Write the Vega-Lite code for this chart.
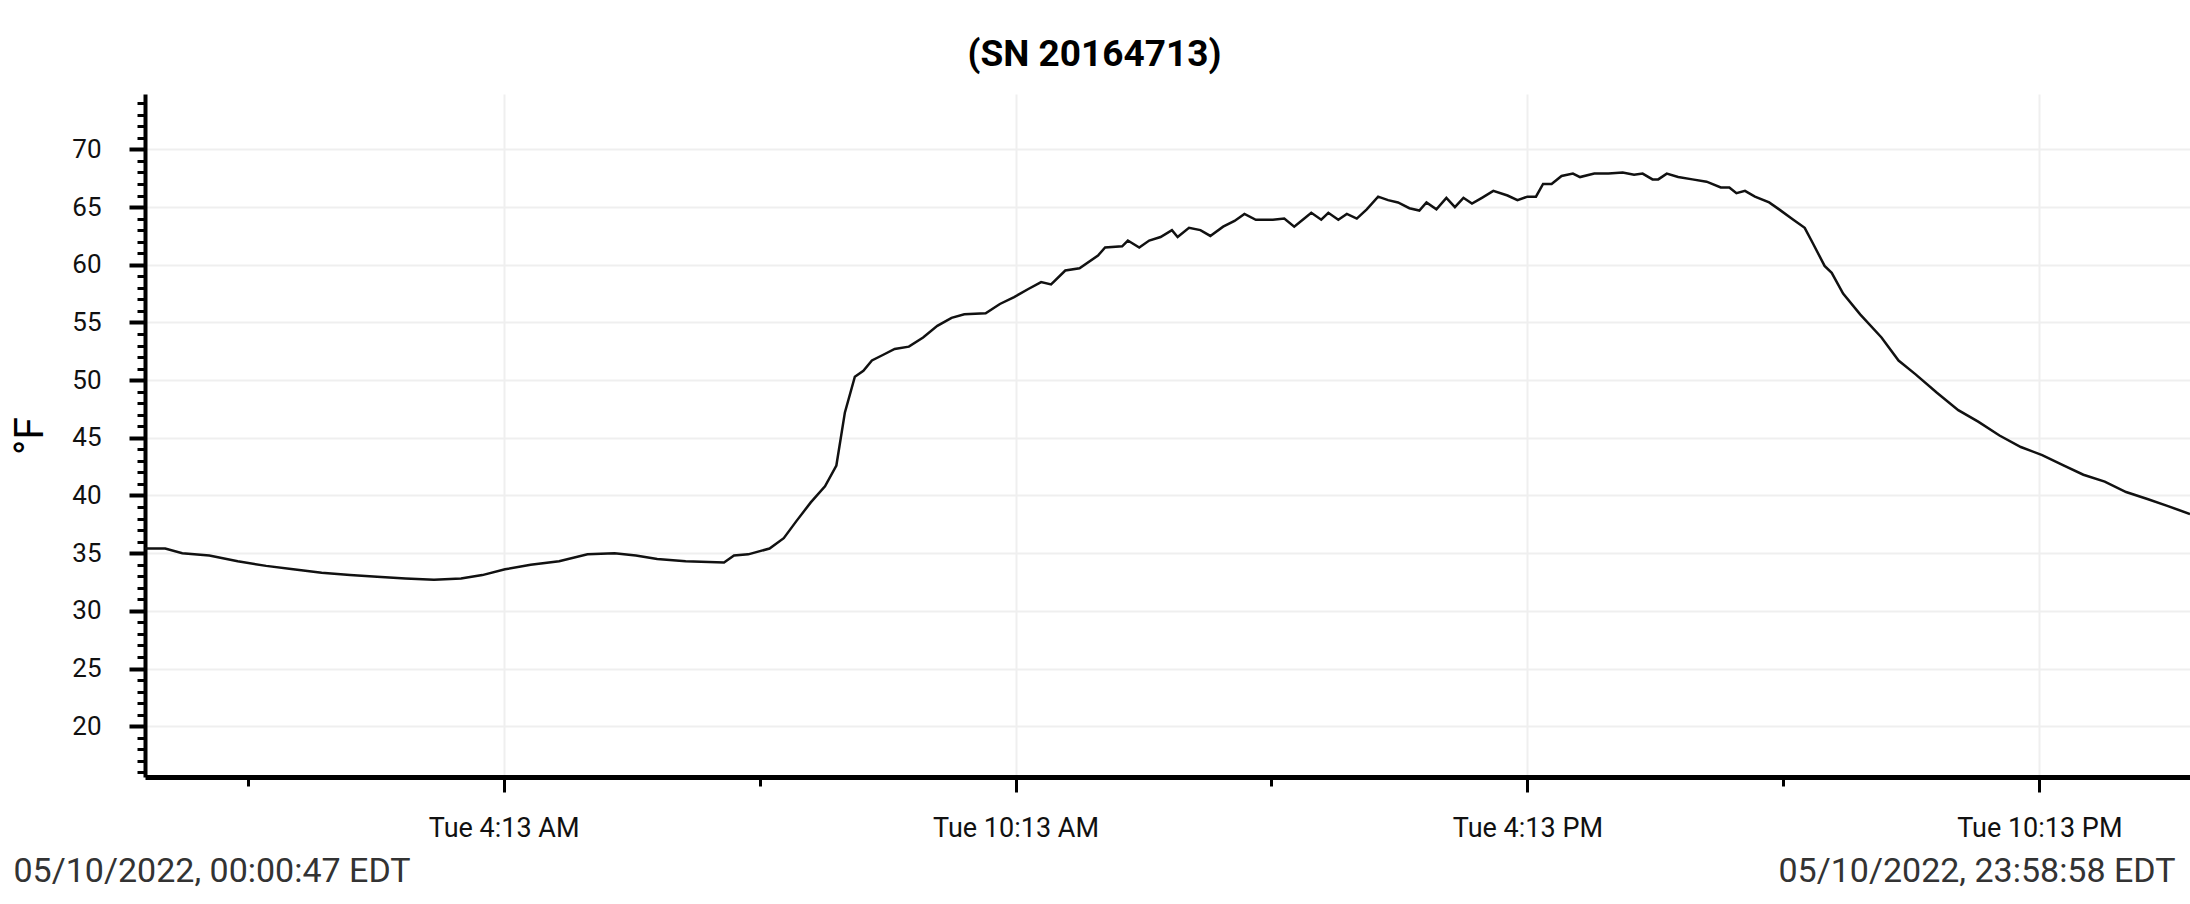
{
  "$schema": "https://vega.github.io/schema/vega-lite/v6.json",
  "width": 2045,
  "height": 683,
  "autosize": {"type": "none"},
  "padding": {"left": 145, "top": 94, "right": 0, "bottom": 127},
  "background": "white",
  "config": {"view": {"stroke": null}, "font": "Roboto"},
  "title": {
    "text": "(SN 20164713)",
    "font": "Roboto",
    "fontSize": 37,
    "fontWeight": "bold",
    "color": "#000000",
    "anchor": "middle",
    "frame": "group",
    "dx": -73,
    "offset": 20
  },
  "data": {
    "values": [
      {"t": "2022-05-10T00:00:47Z", "v": 35.4},
      {"t": "2022-05-10T00:15:00Z", "v": 35.4},
      {"t": "2022-05-10T00:27:00Z", "v": 35.0},
      {"t": "2022-05-10T00:46:00Z", "v": 34.8},
      {"t": "2022-05-10T01:06:00Z", "v": 34.3},
      {"t": "2022-05-10T01:26:00Z", "v": 33.9},
      {"t": "2022-05-10T01:45:00Z", "v": 33.6},
      {"t": "2022-05-10T02:05:00Z", "v": 33.3},
      {"t": "2022-05-10T02:25:00Z", "v": 33.1},
      {"t": "2022-05-10T02:44:00Z", "v": 32.95},
      {"t": "2022-05-10T03:04:00Z", "v": 32.8},
      {"t": "2022-05-10T03:24:00Z", "v": 32.7},
      {"t": "2022-05-10T03:43:00Z", "v": 32.8},
      {"t": "2022-05-10T03:58:00Z", "v": 33.1},
      {"t": "2022-05-10T04:14:00Z", "v": 33.6},
      {"t": "2022-05-10T04:32:00Z", "v": 34.0},
      {"t": "2022-05-10T04:52:00Z", "v": 34.3},
      {"t": "2022-05-10T05:12:00Z", "v": 34.9},
      {"t": "2022-05-10T05:31:00Z", "v": 35.0},
      {"t": "2022-05-10T05:46:00Z", "v": 34.8},
      {"t": "2022-05-10T06:01:00Z", "v": 34.5},
      {"t": "2022-05-10T06:21:00Z", "v": 34.3},
      {"t": "2022-05-10T06:48:00Z", "v": 34.2},
      {"t": "2022-05-10T06:55:00Z", "v": 34.8},
      {"t": "2022-05-10T07:05:00Z", "v": 34.9},
      {"t": "2022-05-10T07:20:00Z", "v": 35.4},
      {"t": "2022-05-10T07:30:00Z", "v": 36.3},
      {"t": "2022-05-10T07:39:00Z", "v": 37.8},
      {"t": "2022-05-10T07:49:00Z", "v": 39.4},
      {"t": "2022-05-10T07:59:00Z", "v": 40.8},
      {"t": "2022-05-10T08:07:00Z", "v": 42.6},
      {"t": "2022-05-10T08:13:00Z", "v": 47.2},
      {"t": "2022-05-10T08:20:00Z", "v": 50.3},
      {"t": "2022-05-10T08:26:00Z", "v": 50.8},
      {"t": "2022-05-10T08:32:00Z", "v": 51.7},
      {"t": "2022-05-10T08:40:00Z", "v": 52.2},
      {"t": "2022-05-10T08:48:00Z", "v": 52.7},
      {"t": "2022-05-10T08:58:00Z", "v": 52.9},
      {"t": "2022-05-10T09:08:00Z", "v": 53.7},
      {"t": "2022-05-10T09:18:00Z", "v": 54.7},
      {"t": "2022-05-10T09:28:00Z", "v": 55.4},
      {"t": "2022-05-10T09:37:00Z", "v": 55.7},
      {"t": "2022-05-10T09:52:00Z", "v": 55.8},
      {"t": "2022-05-10T10:02:00Z", "v": 56.6},
      {"t": "2022-05-10T10:12:00Z", "v": 57.2},
      {"t": "2022-05-10T10:22:00Z", "v": 57.9},
      {"t": "2022-05-10T10:31:00Z", "v": 58.5},
      {"t": "2022-05-10T10:38:00Z", "v": 58.3},
      {"t": "2022-05-10T10:48:00Z", "v": 59.5},
      {"t": "2022-05-10T10:58:00Z", "v": 59.7},
      {"t": "2022-05-10T11:11:00Z", "v": 60.8},
      {"t": "2022-05-10T11:16:00Z", "v": 61.5},
      {"t": "2022-05-10T11:28:00Z", "v": 61.6},
      {"t": "2022-05-10T11:32:00Z", "v": 62.1},
      {"t": "2022-05-10T11:40:00Z", "v": 61.5},
      {"t": "2022-05-10T11:47:00Z", "v": 62.1},
      {"t": "2022-05-10T11:55:00Z", "v": 62.4},
      {"t": "2022-05-10T12:03:00Z", "v": 63.0},
      {"t": "2022-05-10T12:07:00Z", "v": 62.4},
      {"t": "2022-05-10T12:15:00Z", "v": 63.2},
      {"t": "2022-05-10T12:23:00Z", "v": 63.0},
      {"t": "2022-05-10T12:30:00Z", "v": 62.5},
      {"t": "2022-05-10T12:39:00Z", "v": 63.3},
      {"t": "2022-05-10T12:47:00Z", "v": 63.8},
      {"t": "2022-05-10T12:54:00Z", "v": 64.4},
      {"t": "2022-05-10T13:02:00Z", "v": 63.9},
      {"t": "2022-05-10T13:14:00Z", "v": 63.9},
      {"t": "2022-05-10T13:22:00Z", "v": 64.0},
      {"t": "2022-05-10T13:29:00Z", "v": 63.3},
      {"t": "2022-05-10T13:35:00Z", "v": 63.9},
      {"t": "2022-05-10T13:41:00Z", "v": 64.5},
      {"t": "2022-05-10T13:48:00Z", "v": 63.9},
      {"t": "2022-05-10T13:53:00Z", "v": 64.5},
      {"t": "2022-05-10T14:00:00Z", "v": 63.9},
      {"t": "2022-05-10T14:06:00Z", "v": 64.4},
      {"t": "2022-05-10T14:13:00Z", "v": 64.0},
      {"t": "2022-05-10T14:20:00Z", "v": 64.8},
      {"t": "2022-05-10T14:28:00Z", "v": 65.9},
      {"t": "2022-05-10T14:35:00Z", "v": 65.6},
      {"t": "2022-05-10T14:42:00Z", "v": 65.4},
      {"t": "2022-05-10T14:50:00Z", "v": 64.9},
      {"t": "2022-05-10T14:57:00Z", "v": 64.7},
      {"t": "2022-05-10T15:02:00Z", "v": 65.4},
      {"t": "2022-05-10T15:09:00Z", "v": 64.8},
      {"t": "2022-05-10T15:16:00Z", "v": 65.8},
      {"t": "2022-05-10T15:22:00Z", "v": 65.0},
      {"t": "2022-05-10T15:28:00Z", "v": 65.8},
      {"t": "2022-05-10T15:34:00Z", "v": 65.3},
      {"t": "2022-05-10T15:41:00Z", "v": 65.8},
      {"t": "2022-05-10T15:49:00Z", "v": 66.4},
      {"t": "2022-05-10T15:59:00Z", "v": 66.0},
      {"t": "2022-05-10T16:06:00Z", "v": 65.6},
      {"t": "2022-05-10T16:13:00Z", "v": 65.9},
      {"t": "2022-05-10T16:19:00Z", "v": 65.9},
      {"t": "2022-05-10T16:24:00Z", "v": 67.0},
      {"t": "2022-05-10T16:30:00Z", "v": 67.0},
      {"t": "2022-05-10T16:37:00Z", "v": 67.7},
      {"t": "2022-05-10T16:45:00Z", "v": 67.9},
      {"t": "2022-05-10T16:50:00Z", "v": 67.6},
      {"t": "2022-05-10T17:00:00Z", "v": 67.9},
      {"t": "2022-05-10T17:10:00Z", "v": 67.9},
      {"t": "2022-05-10T17:20:00Z", "v": 68.0},
      {"t": "2022-05-10T17:28:00Z", "v": 67.8},
      {"t": "2022-05-10T17:34:00Z", "v": 67.9},
      {"t": "2022-05-10T17:41:00Z", "v": 67.4},
      {"t": "2022-05-10T17:45:00Z", "v": 67.4},
      {"t": "2022-05-10T17:51:00Z", "v": 67.9},
      {"t": "2022-05-10T17:59:00Z", "v": 67.6},
      {"t": "2022-05-10T18:09:00Z", "v": 67.4},
      {"t": "2022-05-10T18:19:00Z", "v": 67.2},
      {"t": "2022-05-10T18:29:00Z", "v": 66.7},
      {"t": "2022-05-10T18:35:00Z", "v": 66.7},
      {"t": "2022-05-10T18:40:00Z", "v": 66.2},
      {"t": "2022-05-10T18:46:00Z", "v": 66.4},
      {"t": "2022-05-10T18:53:00Z", "v": 65.9},
      {"t": "2022-05-10T19:03:00Z", "v": 65.4},
      {"t": "2022-05-10T19:10:00Z", "v": 64.8},
      {"t": "2022-05-10T19:20:00Z", "v": 63.9},
      {"t": "2022-05-10T19:28:00Z", "v": 63.2},
      {"t": "2022-05-10T19:34:00Z", "v": 61.8},
      {"t": "2022-05-10T19:42:00Z", "v": 59.9},
      {"t": "2022-05-10T19:47:00Z", "v": 59.3},
      {"t": "2022-05-10T19:55:00Z", "v": 57.5},
      {"t": "2022-05-10T20:07:00Z", "v": 55.7},
      {"t": "2022-05-10T20:22:00Z", "v": 53.7},
      {"t": "2022-05-10T20:34:00Z", "v": 51.7},
      {"t": "2022-05-10T20:46:00Z", "v": 50.5},
      {"t": "2022-05-10T21:01:00Z", "v": 48.9},
      {"t": "2022-05-10T21:16:00Z", "v": 47.4},
      {"t": "2022-05-10T21:30:00Z", "v": 46.4},
      {"t": "2022-05-10T21:45:00Z", "v": 45.2},
      {"t": "2022-05-10T22:00:00Z", "v": 44.2},
      {"t": "2022-05-10T22:15:00Z", "v": 43.5},
      {"t": "2022-05-10T22:30:00Z", "v": 42.6},
      {"t": "2022-05-10T22:44:00Z", "v": 41.8},
      {"t": "2022-05-10T22:59:00Z", "v": 41.2},
      {"t": "2022-05-10T23:14:00Z", "v": 40.3},
      {"t": "2022-05-10T23:29:00Z", "v": 39.7},
      {"t": "2022-05-10T23:43:00Z", "v": 39.1},
      {"t": "2022-05-10T23:58:58Z", "v": 38.4}
    ]
  },
  "layer": [
    {
      "mark": {"type": "line", "color": "#111111", "strokeWidth": 2.5, "clip": true},
      "encoding": {
        "x": {
          "field": "t",
          "type": "temporal",
          "scale": {
            "type": "utc",
            "domain": [
              {"year": 2022, "month": 5, "date": 10, "hours": 0, "minutes": 0, "seconds": 47, "utc": true},
              {"year": 2022, "month": 5, "date": 10, "hours": 23, "minutes": 58, "seconds": 58, "utc": true}
            ]
          },
          "axis": {
            "orient": "bottom",
            "title": null,
            "values": [
              {"year": 2022, "month": 5, "date": 10, "hours": 4, "minutes": 13, "utc": true},
              {"year": 2022, "month": 5, "date": 10, "hours": 10, "minutes": 13, "utc": true},
              {"year": 2022, "month": 5, "date": 10, "hours": 16, "minutes": 13, "utc": true},
              {"year": 2022, "month": 5, "date": 10, "hours": 22, "minutes": 13, "utc": true}
            ],
            "format": "%a %-I:%M %p",
            "labelFont": "Roboto",
            "labelFontSize": 27,
            "labelColor": "#111111",
            "labelBaseline": "middle",
            "labelPadding": 36,
            "labelOverlap": false,
            "domainColor": "#000000",
            "domainWidth": 5,
            "tickColor": "#000000",
            "tickSize": 15,
            "tickWidth": 3,
            "grid": true,
            "gridColor": "#efefef",
            "gridWidth": 2
          }
        },
        "y": {
          "field": "v",
          "type": "quantitative",
          "scale": {"domain": [15.6, 74.8], "nice": false, "zero": false},
          "axis": {
            "orient": "left",
            "title": "°F",
            "titleFont": "Roboto",
            "titleFontSize": 41,
            "titleFontWeight": "normal",
            "titleColor": "#000000",
            "titlePadding": 20,
            "values": [20, 25, 30, 35, 40, 45, 50, 55, 60, 65, 70],
            "labelFont": "Roboto",
            "labelFontSize": 26,
            "labelColor": "#111111",
            "labelPadding": 28,
            "domainColor": "#000000",
            "domainWidth": 4,
            "tickColor": "#000000",
            "tickSize": 16,
            "tickWidth": 4,
            "grid": true,
            "gridColor": "#efefef",
            "gridWidth": 2
          }
        }
      }
    },
    {
      "mark": {"type": "line", "strokeOpacity": 0},
      "encoding": {
        "x": {
          "field": "t",
          "type": "temporal",
          "axis": {
            "orient": "bottom",
            "title": null,
            "values": [
              {"year": 2022, "month": 5, "date": 10, "hours": 1, "minutes": 13, "utc": true},
              {"year": 2022, "month": 5, "date": 10, "hours": 7, "minutes": 13, "utc": true},
              {"year": 2022, "month": 5, "date": 10, "hours": 13, "minutes": 13, "utc": true},
              {"year": 2022, "month": 5, "date": 10, "hours": 19, "minutes": 13, "utc": true}
            ],
            "labels": false,
            "domain": false,
            "grid": false,
            "tickColor": "#000000",
            "tickSize": 9,
            "tickWidth": 3
          }
        },
        "y": {
          "field": "v",
          "type": "quantitative",
          "axis": {
            "orient": "left",
            "title": null,
            "values": [16, 17, 18, 19, 21, 22, 23, 24, 26, 27, 28, 29, 31, 32, 33, 34, 36, 37, 38, 39, 41, 42, 43, 44, 46, 47, 48, 49, 51, 52, 53, 54, 56, 57, 58, 59, 61, 62, 63, 64, 66, 67, 68, 69, 71, 72, 73, 74],
            "labels": false,
            "domain": false,
            "grid": false,
            "tickColor": "#000000",
            "tickSize": 8,
            "tickWidth": 3
          }
        }
      }
    },
    {
      "mark": {"type": "line", "strokeOpacity": 0},
      "encoding": {
        "x": {
          "field": "t",
          "type": "temporal",
          "axis": {
            "orient": "bottom",
            "title": null,
            "values": [
              {"year": 2022, "month": 5, "date": 10, "hours": 0, "minutes": 0, "seconds": 47, "utc": true},
              {"year": 2022, "month": 5, "date": 10, "hours": 23, "minutes": 58, "seconds": 58, "utc": true}
            ],
            "labelExpr": "utcFormat(datum.value, '%m/%d/%Y, %H:%M:%S') + ' EDT'",
            "labelFont": "Roboto",
            "labelFontSize": 34,
            "labelColor": "#333333",
            "labelBaseline": "alphabetic",
            "labelPadding": 104,
            "labelLimit": 1000,
            "labelFlush": true,
            "labelOverlap": false,
            "labelBound": false,
            "labelOffset": {"condition": {"test": "datum.value < utc(2022, 4, 10, 12)", "value": -132}, "value": -15},
            "ticks": false,
            "domain": false,
            "grid": false
          }
        },
        "y": {"field": "v", "type": "quantitative", "axis": null}
      }
    }
  ],
  "resolve": {"axis": {"x": "independent", "y": "independent"}}
}
